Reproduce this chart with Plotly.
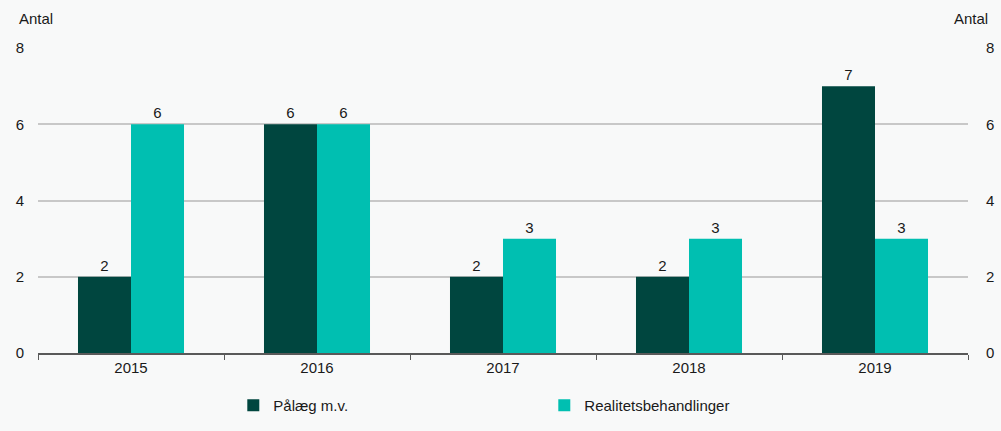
import plotly.graph_objects as go

years = ["2015", "2016", "2017", "2018", "2019"]
palaeg = [2, 6, 2, 2, 7]
realitet = [6, 6, 3, 3, 3]
y_ticks = [0, 2, 4, 6, 8]

dark = "#00463F"
teal = "#00BFB1"
font_col = "#1a1a1a"
bg = "#F8F9F9"
FS = 15

fig = go.Figure()
fig.add_trace(go.Bar(x=years, y=palaeg, name="Pålæg m.v.", marker=dict(color=dark, line=dict(width=0)),
                     text=palaeg, textposition="outside", cliponaxis=False,
                     textfont=dict(size=FS, color=font_col)))
fig.add_trace(go.Bar(x=years, y=realitet, name="Realitetsbehandlinger", marker=dict(color=teal, line=dict(width=0)),
                     text=realitet, textposition="outside", cliponaxis=False,
                     textfont=dict(size=FS, color=font_col)))
fig.add_trace(go.Scatter(x=years, y=realitet, yaxis="y2", mode="markers",
                         marker=dict(opacity=0), showlegend=False, hoverinfo="skip"))

fig.update_layout(
    width=1001, height=431,
    paper_bgcolor=bg, plot_bgcolor=bg,
    font=dict(family="Liberation Sans, Arial, sans-serif", size=FS, color=font_col),
    margin=dict(l=38, r=33, t=48, b=78, autoexpand=False),
    barmode="group", bargap=0.43, bargroupgap=0,
    xaxis=dict(type="category", tickson="boundaries", ticks="outside", ticklen=5,
               tickcolor="#595959", showline=True, linecolor="#595959", linewidth=1.5,
               showgrid=False, tickfont=dict(size=FS), automargin=False),
    yaxis=dict(range=[0, 8], tickvals=y_ticks, showgrid=True, gridcolor="#C8C8C8",
               gridwidth=1.5, zeroline=False, showline=False, automargin=False,
               ticks="outside", ticklen=10, tickcolor="rgba(0,0,0,0)"),
    yaxis2=dict(range=[0, 8], tickvals=y_ticks, overlaying="y", side="right",
                showgrid=False, zeroline=False, showline=False, automargin=False,
                ticks="outside", ticklen=14, tickcolor="rgba(0,0,0,0)"),
    legend=dict(orientation="h", x=0.21, xanchor="left", y=-0.118, yanchor="top",
                entrywidth=266, font=dict(size=FS), itemwidth=30),
    annotations=[
        dict(text="Antal", xref="paper", yref="paper", x=-0.0225, y=1.0, yshift=30,
             xanchor="left", yanchor="middle", showarrow=False, font=dict(size=FS)),
        dict(text="Antal", xref="paper", yref="paper", x=1.0237, y=1.0, yshift=30,
             xanchor="right", yanchor="middle", showarrow=False, font=dict(size=FS)),
    ],
)

fig.write_html("out.html", config={"displayModeBar": False},
               post_script="document.body.style.margin='0';document.body.style.overflow='hidden';")
